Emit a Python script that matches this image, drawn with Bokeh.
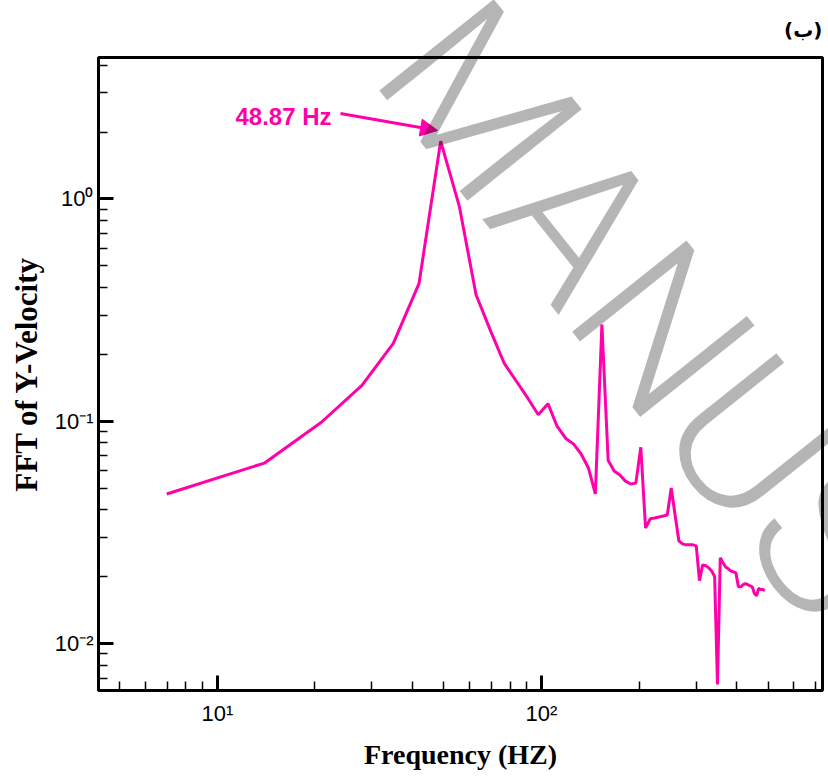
from bokeh.plotting import figure
from bokeh.models import FixedTicker, CustomJSTickFormatter, Label, Arrow, NormalHead, Range1d, Title, Div
from bokeh.layouts import column
from bokeh.embed import file_html
from bokeh.resources import INLINE

# ---------------- data ----------------
freq_hz = [6.98, 13.96, 20.94, 27.93, 34.91, 41.89, 48.87, 55.85, 62.83, 69.81,
           76.79, 83.78, 90.76, 97.74, 104.72, 111.70, 118.68, 125.66, 132.65, 139.63,
           146.61, 153.59, 160.57, 167.55, 174.53, 181.51, 188.50, 195.48, 202.46, 209.44,
           216.42, 223.40, 230.38, 237.36, 244.35, 251.33, 258.31, 265.29, 272.27, 279.25,
           286.23, 293.21, 300.20, 307.18, 314.16, 321.14, 328.12, 335.10, 342.08, 349.07,
           356.05, 363.03, 370.01, 376.99, 383.97, 390.95, 397.94, 404.92, 411.90, 418.88,
           425.86, 432.84, 439.82, 446.80, 453.79, 460.77, 467.75, 474.73, 481.71, 488.69]

fft_y_velocity = [0.0471, 0.0648, 0.0990, 0.145, 0.224, 0.416, 1.82, 0.921, 0.371, 0.253,
                  0.182, 0.151, 0.127, 0.107, 0.120, 0.0950, 0.0839, 0.0789, 0.0711, 0.0616,
                  0.0471, 0.272, 0.0668, 0.0597, 0.0573, 0.0538, 0.0522, 0.0527, 0.0764, 0.0331,
                  0.0364, 0.0367, 0.0371, 0.0375, 0.0379, 0.0501, 0.0379, 0.0290, 0.0281, 0.0278,
                  0.0278, 0.0278, 0.0275, 0.0192, 0.0226, 0.0224, 0.0219, 0.0212, 0.0200, 0.00655,
                  0.0243, 0.0231, 0.0221, 0.0217, 0.0212, 0.0210, 0.0208, 0.0180, 0.0180, 0.0184,
                  0.0186, 0.0184, 0.0182, 0.0180, 0.0168, 0.0164, 0.0177, 0.0175, 0.0175, 0.0173]

x_major_ticks = [10, 100]
x_minor_ticks = [5, 6, 7, 8, 9, 20, 30, 40, 50, 60, 70, 80, 90, 200, 300, 400, 500, 600, 700]
y_major_ticks = [0.01, 0.1, 1]
y_minor_ticks = [0.007, 0.008, 0.009, 0.02, 0.03, 0.04, 0.05, 0.06, 0.07, 0.08, 0.09,
                 0.2, 0.3, 0.4, 0.5, 0.6, 0.7, 0.8, 0.9, 2, 3, 4]

x_label = "Frequency (HZ)"
y_label = "FFT of Y-Velocity"
peak_label = "48.87 Hz"
panel_label = "(ب)"
watermark = "MANUSCRIPT"

MAGENTA = "#ff00aa"
W, H = 828, 776

p = figure(width=W, height=H,
           x_axis_type="log", y_axis_type="log",
           x_range=Range1d(4.3, 736), y_range=Range1d(0.00615, 4.33),
           output_backend="svg", toolbar_location=None,
           min_border_left=98, min_border_right=6, min_border_top=55, min_border_bottom=86)

p.title = Title(text=panel_label, align="right", text_font="DejaVu Sans",
                text_font_style="bold", text_font_size="20px", text_color="black",
                standoff=31)

p.background_fill_color = "white"
p.border_fill_color = "white"
p.outline_line_color = "black"
p.outline_line_width = 3
p.outline_line_alpha = 1.0
p.grid.visible = False

fmt_code = """
const sup = {"-": "\u207b", "0": "\u2070", "1": "\u00b9", "2": "\u00b2", "3": "\u00b3",
             "4": "\u2074", "5": "\u2075", "6": "\u2076", "7": "\u2077", "8": "\u2078", "9": "\u2079"};
const e = Math.round(Math.log10(tick));
return "10" + String(e).split("").map(c => sup[c]).join("");
"""

p.xaxis.ticker = FixedTicker(ticks=x_major_ticks, minor_ticks=x_minor_ticks)
p.yaxis.ticker = FixedTicker(ticks=y_major_ticks, minor_ticks=y_minor_ticks)
p.xaxis.formatter = CustomJSTickFormatter(code=fmt_code)
p.yaxis.formatter = CustomJSTickFormatter(code=fmt_code)
p.xaxis.axis_label = x_label
p.yaxis.axis_label = y_label

for ax in (p.xaxis[0], p.yaxis[0]):
    ax.axis_line_width = 3
    ax.axis_line_color = "black"
    ax.major_tick_in = 15
    ax.major_tick_out = 0
    ax.minor_tick_in = 9
    ax.minor_tick_out = 0
    ax.major_tick_line_width = 3
    ax.minor_tick_line_width = 1.5
    ax.major_tick_line_color = "black"
    ax.minor_tick_line_color = "black"
    ax.major_label_text_font = "Liberation Sans"
    ax.major_label_text_font_size = "22px"
    ax.major_label_text_color = "black"
    ax.axis_label_text_font = "Liberation Serif"
    ax.axis_label_text_font_style = "bold"
    ax.axis_label_text_color = "black"

p.xaxis.axis_label_text_font_size = "28px"
p.yaxis.axis_label_text_font_size = "31px"
p.xaxis.major_label_standoff = 10
p.yaxis.major_label_standoff = 5
p.xaxis.axis_label_standoff = 10
p.yaxis.axis_label_standoff = 8

p.line(freq_hz, fft_y_velocity, line_color=MAGENTA, line_width=3)

# peak annotation
p.add_layout(Label(x=137, y=574, x_units="screen", y_units="screen", text=peak_label,
                   text_font="Liberation Sans", text_font_style="bold", text_font_size="24px",
                   text_color=MAGENTA, text_baseline="alphabetic", text_align="left"))
p.add_layout(Arrow(end=NormalHead(size=17, fill_color=MAGENTA, line_color=MAGENTA),
                   x_start=242, y_start=577, x_end=339, y_end=560,
                   start_units="screen", end_units="screen",
                   line_color=MAGENTA, line_width=3))

# watermark: an overlay over the whole canvas (not clipped to the plot frame)
wm_inner = ('<div style="position:absolute; left:498px; top:-37px; transform-origin:0 0; '
            'transform:rotate(51.4deg); font-family:\'Roboto Light\',Roboto,sans-serif; '
            'font-weight:300; font-size:206px; line-height:1; white-space:nowrap; '
            'color:rgba(0,0,0,0.29); pointer-events:none;">' + watermark + '</div>')
wm = Div(text=wm_inner, width=W, height=H,
         styles={"position": "absolute", "left": "0px", "top": "0px",
                 "overflow": "visible", "pointer-events": "none"})

layout = column(p, wm)
open("out.html", "w").write(file_html(layout, INLINE))
